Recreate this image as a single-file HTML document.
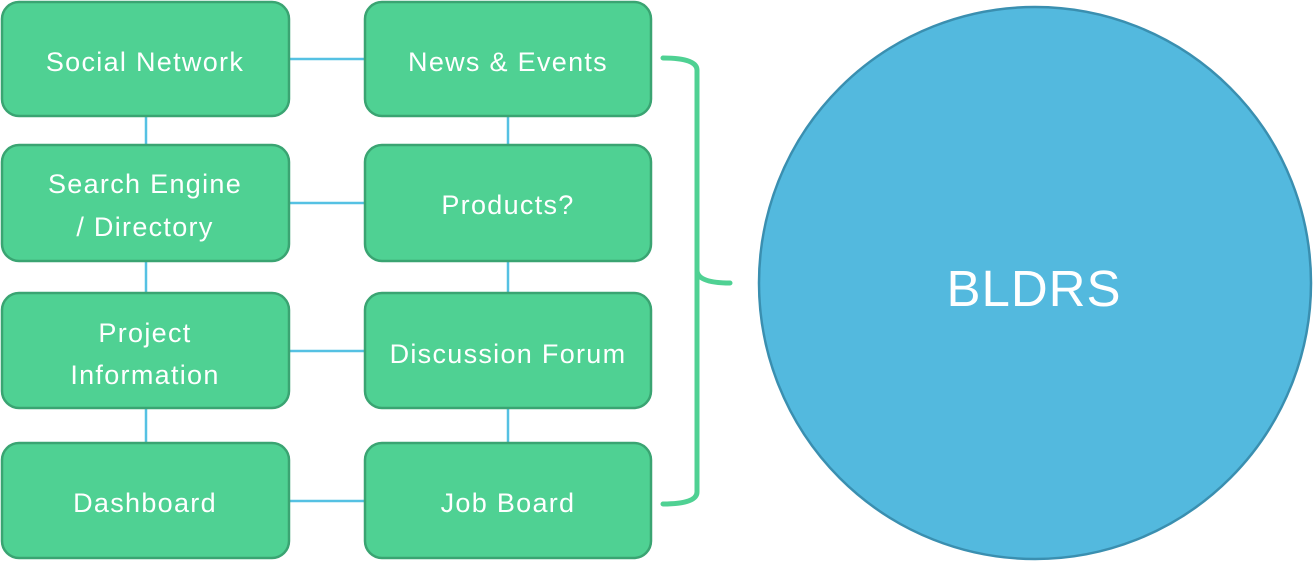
<!DOCTYPE html>
<html><head><style>
html,body{margin:0;padding:0;background:#fff;}
svg{display:block;}
text{font-family:"Liberation Sans",sans-serif;fill:#fff;}
</style></head><body>
<svg width="1313" height="564" viewBox="0 0 1313 564" xmlns="http://www.w3.org/2000/svg">
<g stroke="#55c1e3" stroke-width="2.5">
<line x1="289" y1="59" x2="365" y2="59"/>
<line x1="289" y1="203" x2="365" y2="203"/>
<line x1="289" y1="351" x2="365" y2="351"/>
<line x1="289" y1="501" x2="365" y2="501"/>
<line x1="146" y1="116" x2="146" y2="145"/>
<line x1="146" y1="261" x2="146" y2="293"/>
<line x1="146" y1="408" x2="146" y2="443"/>
<line x1="508" y1="116" x2="508" y2="145"/>
<line x1="508" y1="261" x2="508" y2="293"/>
<line x1="508" y1="408" x2="508" y2="443"/>
</g>
<g fill="#4fd193" stroke="#3aa472" stroke-width="2.5">
<rect x="2" y="2" width="287" height="114" rx="17"/>
<rect x="2" y="145" width="287" height="116" rx="17"/>
<rect x="2" y="293" width="287" height="115" rx="17"/>
<rect x="2" y="443" width="287" height="115" rx="17"/>
<rect x="365" y="2" width="286" height="114" rx="17"/>
<rect x="365" y="145" width="286" height="116" rx="17"/>
<rect x="365" y="293" width="286" height="115" rx="17"/>
<rect x="365" y="443" width="286" height="115" rx="17"/>
</g>
<g font-size="27" text-anchor="middle" letter-spacing="1.3">
<text x="145" y="71">Social Network</text>
<text x="145" y="193">Search Engine</text>
<text x="145" y="236">/ Directory</text>
<text x="145" y="342">Project</text>
<text x="145" y="384">Information</text>
<text x="145" y="512">Dashboard</text>
<text x="508" y="71">News &amp; Events</text>
<text x="508" y="214">Products?</text>
<text x="508" y="363">Discussion Forum</text>
<text x="508" y="512">Job Board</text>
</g>
<path d="M663 58 Q697 58 697 70 L697 270 Q697 283 730 283 M697 270 Q697 283 697 296 L697 492 Q697 504 663 504" fill="none" stroke="#4fd193" stroke-width="5" stroke-linecap="round"/>
<circle cx="1035" cy="283" r="276" fill="#53b9de" stroke="#3a8fb0" stroke-width="2.5"/>
<text x="1034" y="306" font-size="51" text-anchor="middle" letter-spacing="1">BLDRS</text>
</svg>
</body></html>
